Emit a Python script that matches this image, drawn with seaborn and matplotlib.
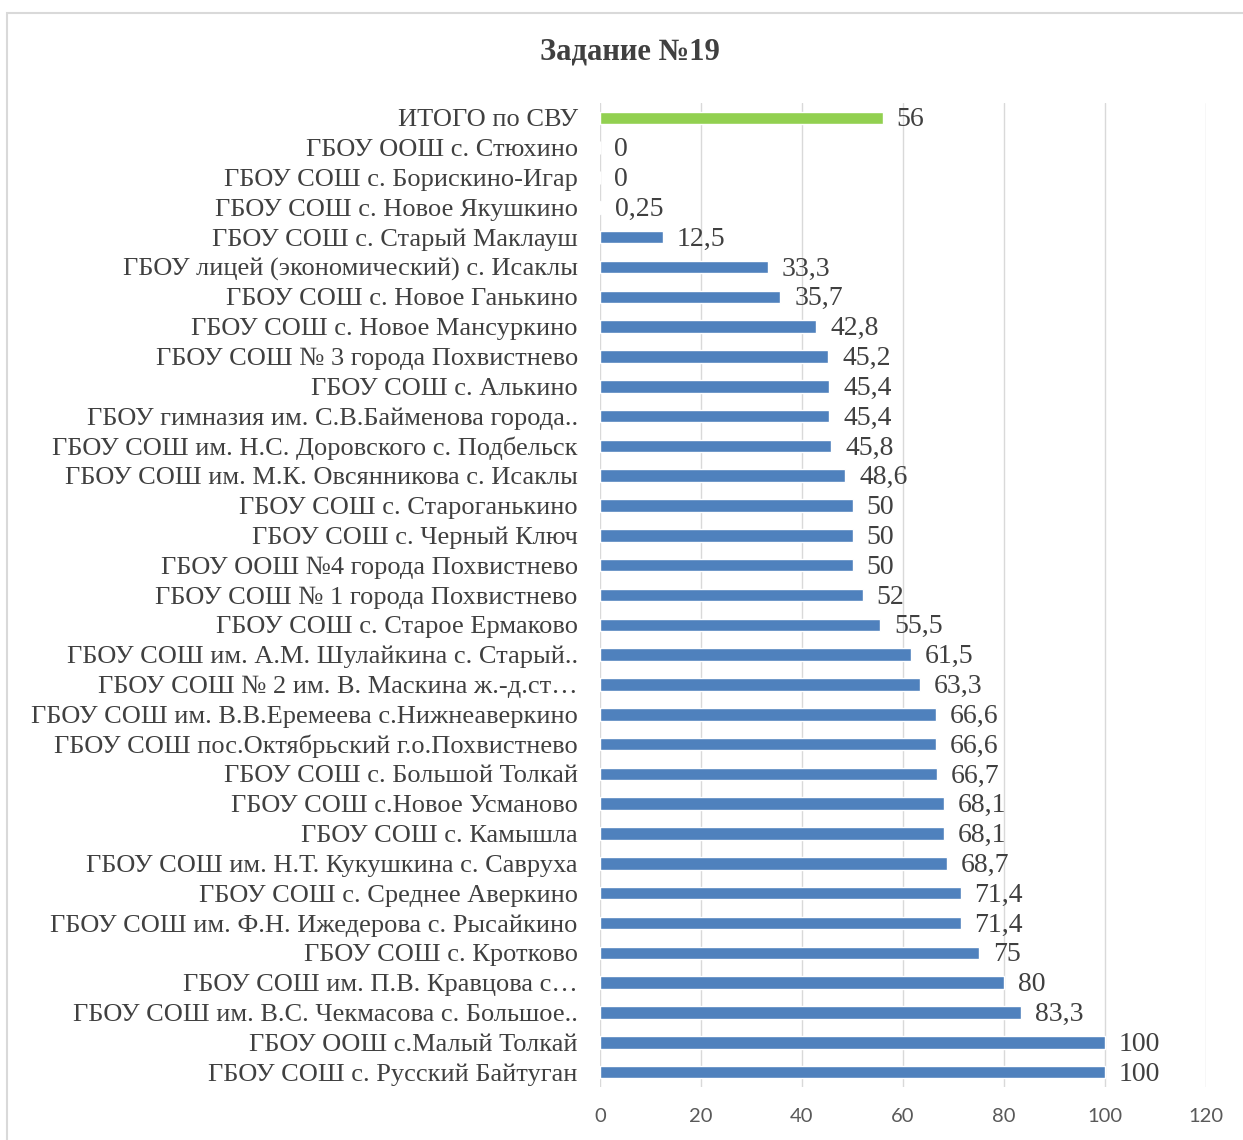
import matplotlib
matplotlib.use("Agg")
import matplotlib.pyplot as plt
import seaborn as sns
import pandas as pd
from matplotlib.patches import Rectangle
from matplotlib.transforms import offset_copy

categories = [
    "ИТОГО по СВУ",
    "ГБОУ ООШ с. Стюхино",
    "ГБОУ СОШ с. Борискино-Игар",
    "ГБОУ СОШ с. Новое Якушкино",
    "ГБОУ СОШ с. Старый Маклауш",
    "ГБОУ лицей (экономический) с. Исаклы",
    "ГБОУ СОШ с. Новое Ганькино",
    "ГБОУ СОШ с. Новое Мансуркино",
    "ГБОУ СОШ № 3 города Похвистнево",
    "ГБОУ СОШ с. Алькино",
    "ГБОУ гимназия им. С.В.Байменова города..",
    "ГБОУ СОШ им. Н.С. Доровского с. Подбельск",
    "ГБОУ СОШ им. М.К. Овсянникова с. Исаклы",
    "ГБОУ СОШ с. Староганькино",
    "ГБОУ СОШ с. Черный Ключ",
    "ГБОУ ООШ №4 города Похвистнево",
    "ГБОУ СОШ № 1 города Похвистнево",
    "ГБОУ СОШ с. Старое Ермаково",
    "ГБОУ СОШ им. А.М. Шулайкина с. Старый..",
    "ГБОУ СОШ № 2 им. В. Маскина ж.-д.ст…",
    "ГБОУ СОШ им. В.В.Еремеева с.Нижнеаверкино",
    "ГБОУ СОШ пос.Октябрьский г.о.Похвистнево",
    "ГБОУ СОШ с. Большой Толкай",
    "ГБОУ СОШ с.Новое Усманово",
    "ГБОУ СОШ с. Камышла",
    "ГБОУ СОШ им. Н.Т. Кукушкина с. Савруха",
    "ГБОУ СОШ с. Среднее Аверкино",
    "ГБОУ СОШ им. Ф.Н. Ижедерова с. Рысайкино",
    "ГБОУ СОШ с. Кротково",
    "ГБОУ СОШ им. П.В. Кравцова с…",
    "ГБОУ СОШ им. В.С. Чекмасова с. Большое..",
    "ГБОУ ООШ с.Малый Толкай",
    "ГБОУ СОШ с. Русский Байтуган",
]
values = [56, 0, 0, 0.25, 12.5, 33.3, 35.7, 42.8, 45.2, 45.4, 45.4, 45.8, 48.6,
          50, 50, 50, 52, 55.5, 61.5, 63.3, 66.6, 66.6, 66.7, 68.1, 68.1, 68.7,
          71.4, 71.4, 75, 80, 83.3, 100, 100]
value_labels = ["56", "0", "0", "0,25", "12,5", "33,3", "35,7", "42,8", "45,2",
                "45,4", "45,4", "45,8", "48,6", "50", "50", "50", "52", "55,5",
                "61,5", "63,3", "66,6", "66,6", "66,7", "68,1", "68,1", "68,7",
                "71,4", "71,4", "75", "80", "83,3", "100", "100"]
x_ticks = [0, 20, 40, 60, 80, 100, 120]
title = "Задание №19"

BLUE = "#4F81BD"
GREEN = "#92D050"
TEXT = "#404040"

df = pd.DataFrame({"school": categories, "value": values})
colors = [GREEN] + [BLUE] * (len(categories) - 1)

sns.set_theme(style="white")
plt.rcParams["font.family"] = ["Liberation Serif", "DejaVu Serif"]

fig = plt.figure(figsize=(12.43, 11.40), dpi=100)
ax = fig.add_axes([600 / 1243, 1 - 1087 / 1140, 606 / 1243, (1087 - 103) / 1140])

sns.barplot(data=df, x="value", y="school", hue="school", palette=colors,
            legend=False, orient="h", width=0.42, ax=ax, saturation=1)

ax.set_xlim(0, 120)
ax.set_xticks(x_ticks)
ax.set_xticklabels([str(t) for t in x_ticks], family=["Lato", "DejaVu Sans"],
                   fontsize=14.5, color="#595959")
ax.tick_params(axis="x", length=0, pad=15)
ax.tick_params(axis="y", length=0, pad=16, labelsize=19, labelcolor=TEXT)
ax.set_xlabel("")
ax.set_ylabel("")
ax.xaxis.grid(True, color="#D9D9D9", linewidth=1)
ax.set_axisbelow(True)
for s in ax.spines.values():
    s.set_visible(False)

for i, (v, lab) in enumerate(zip(values, value_labels)):
    ax.annotate(lab, xy=(v, i), xytext=(10, -1.5), textcoords="offset points",
                va="center", ha="left", fontsize=20, color=TEXT)

fig.text(630 / 1243, 1 - 52 / 1140, title, ha="center", va="center",
         fontsize=22, fontweight="bold", color=TEXT)

fig.patches.append(Rectangle((7 / 1243, -0.01), 1.0, 1 - 13 / 1140 + 0.01,
                             transform=fig.transFigure, fill=False,
                             edgecolor="#D9D9D9", linewidth=1.5))

fig.savefig("out.png", dpi=100)
